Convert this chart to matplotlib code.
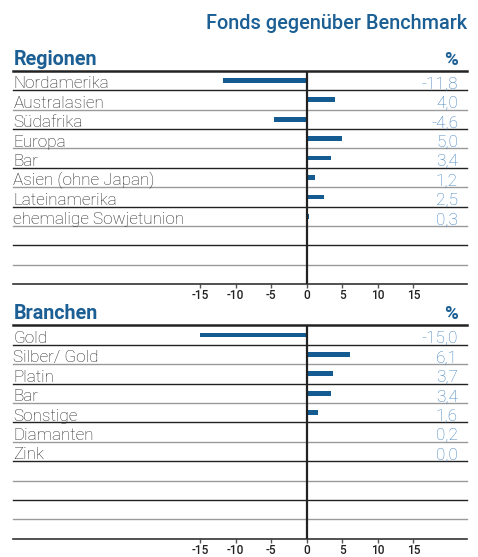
import matplotlib
matplotlib.use("Agg")
import matplotlib.pyplot as plt
from matplotlib.transforms import blended_transform_factory

# ---- data ----
title = "Fonds gegenüber Benchmark"
regions_header = "Regionen"
regions = ["Nordamerika", "Australasien", "Südafrika", "Europa", "Bar",
           "Asien (ohne Japan)", "Lateinamerika", "ehemalige Sowjetunion"]
regions_values = [-11.8, 4.0, -4.6, 5.0, 3.4, 1.2, 2.5, 0.3]
sectors_header = "Branchen"
sectors = ["Gold", "Silber/ Gold", "Platin", "Bar", "Sonstige", "Diamanten", "Zink"]
sectors_values = [-15.0, 6.1, 3.7, 3.4, 1.6, 0.2, 0.0]
xticks = [-15, -10, -5, 0, 5, 10, 15]
n_rows = 11

BAR = "#135b91"
VAL = "#3f80bf"
HEAD = "#1b5f94"
TXT = "#262626"

FONT = "Roboto"

W, H = 478, 557
fig = plt.figure(figsize=(W / 100, H / 100), dpi=100)

fig.text(467 / W, 1 - 29 / H, title, ha="right", va="baseline", color=HEAD,
         fontsize=14.3, family=FONT, weight="medium")

x0, x1 = 13.3 / W, 467.3 / W
xlim = (-41.25, 22.59)


def panel(top_px, bottom_px, header, cats, vals):
    ax = fig.add_axes([x0, 1 - bottom_px / H, x1 - x0, (bottom_px - top_px) / H])
    ax.set_xlim(*xlim)
    ax.set_ylim(n_rows, 0)
    for s in ax.spines.values():
        s.set_visible(False)
    ax.set_yticks([])
    ax.set_xticks(xticks)
    ax.set_xticklabels([str(t) for t in xticks], fontsize=8.6, family=FONT,
                       weight="medium", color="#222222")
    ax.tick_params(axis="x", direction="out", length=3, width=1, color="#555555", pad=0.5)
    trans = blended_transform_factory(ax.transAxes, ax.transData)
    # row lines
    for i in range(1, n_rows):
        col = "#222222" if i % 2 == 1 else "#9a9a9a"
        ax.plot([0, 1], [i, i], transform=trans, color=col, lw=1.0, clip_on=False)
    ax.plot([0, 1], [0, 0], transform=trans, color="#222222", lw=1.8, clip_on=False)
    ax.plot([0, 1], [n_rows, n_rows], transform=trans, color="#333333", lw=1.2, clip_on=False)
    # zero line
    ax.axvline(0, color="#222222", lw=1.6, zorder=3)
    ys = [i + 0.5 for i in range(len(cats))]
    ax.barh(ys, vals, height=0.24, color=BAR, zorder=2)
    for y, c, v in zip(ys, cats, vals):
        ax.text(0.0, y + 0.41, c, transform=trans, ha="left", va="baseline",
                fontsize=12.3, family=FONT, weight="light", color=TXT)
        ax.text(0.9795, y + 0.41, f"{v:.1f}".replace(".", ","), transform=trans,
                ha="right", va="baseline", fontsize=12.3, family=FONT, weight="light", color=VAL)
    ax.text(0.0, -0.3, header, transform=trans, ha="left", va="baseline",
            fontsize=14.2, family=FONT, weight="bold", color=HEAD)
    ax.text(0.9795, -0.3, "%", transform=trans, ha="right", va="baseline",
            fontsize=13.5, family=FONT, weight="bold", color=HEAD)
    return ax


panel(70.7, 284.3, regions_header, regions, regions_values)
panel(325.3, 538.7, sectors_header, sectors, sectors_values)

fig.savefig("out.png", dpi=100)
